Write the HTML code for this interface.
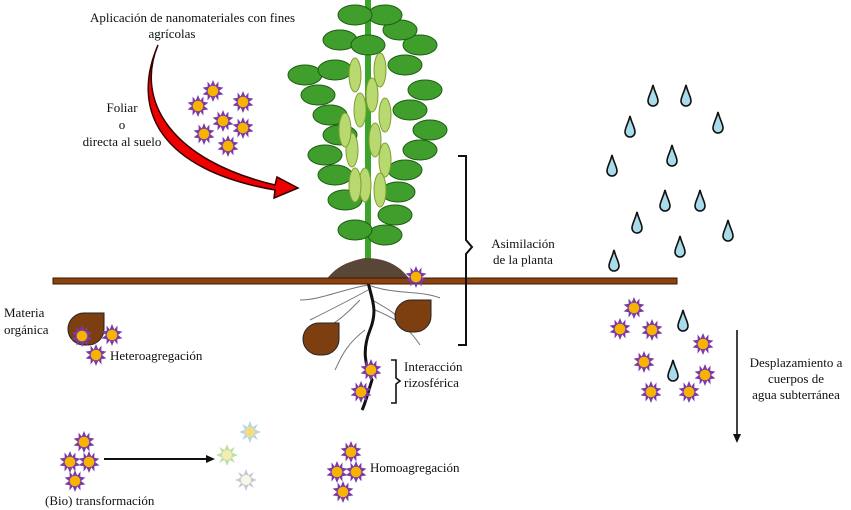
<!DOCTYPE html>
<html><head><meta charset="utf-8"><style>
body{margin:0;background:#fff;width:851px;height:510px;overflow:hidden}
svg{display:block}
text{font-family:"Liberation Serif",serif;font-size:13px;fill:#111}
</style></head><body>
<svg width="851" height="510" viewBox="0 0 851 510">
<defs>
<g id="s"><polygon points="0,-11 2.3,-5.5 5.5,-9.5 5.3,-4.2 10.4,-3.4 6,0 10.4,3.4 5.3,4.2 5.5,9.5 2.3,5.5 0,11 -2.3,5.5 -5.5,9.5 -5.3,4.2 -10.4,3.4 -6,0 -10.4,-3.4 -5.3,-4.2 -5.5,-9.5 -2.3,-5.5" fill="#7a3aa8"/><circle r="5.3" fill="#f6b400"/></g>
<g id="d"><path d="M0,-12 C2,-4 5,0 5,4 A5,5 0 0 1 -5,4 C-5,0 -2,-4 0,-12Z" fill="#a8dceb" stroke="#111" stroke-width="1.6"/></g>
<path id="b" d="M0,16 A16,16 0 0 1 16,0 H36 V16 A16,16 0 0 1 20,32 H16 A16,16 0 0 1 0,16Z"/>
<ellipse id="l" rx="17" ry="10" fill="#3f9e2c" stroke="#1f5e14" stroke-width="1"/>
<ellipse id="p" rx="6" ry="17" fill="#b8d870" stroke="#7a9e30" stroke-width="1"/>
</defs>
<path d="M158,45 C135,100 170,160 275,185 L277,177 L298,188 L274,198 L275,190 C160,170 130,110 158,45Z" fill="#e00" stroke="#300" stroke-width="1.5"/>
<text x="90" y="22">Aplicación de nanomateriales con fines</text>
<text x="172" y="38" text-anchor="middle">agrícolas</text>
<text x="122" y="112" text-anchor="middle">Foliar</text>
<text x="122" y="129" text-anchor="middle">o</text>
<text x="122" y="146" text-anchor="middle">directa al suelo</text>
<use href="#s" x="213" y="91"/><use href="#s" x="243" y="102"/><use href="#s" x="198" y="106"/><use href="#s" x="223" y="121"/><use href="#s" x="243" y="128"/><use href="#s" x="204" y="134"/><use href="#s" x="228" y="146"/>
<!-- plant -->
<rect x="365" y="0" width="6" height="262" fill="#3aa52a"/>
<g>
<use href="#l" x="305" y="75"/><use href="#l" x="330" y="115"/><use href="#l" x="325" y="155"/><use href="#l" x="340" y="40"/><use href="#l" x="318" y="95"/><use href="#l" x="335" y="70"/><use href="#l" x="340" y="135"/><use href="#l" x="335" y="175"/>
<use href="#l" x="420" y="45"/><use href="#l" x="425" y="90"/><use href="#l" x="430" y="130"/><use href="#l" x="405" y="170"/><use href="#l" x="405" y="65"/><use href="#l" x="410" y="110"/><use href="#l" x="420" y="150"/><use href="#l" x="400" y="30"/>
<use href="#l" x="385" y="15"/><use href="#l" x="355" y="15"/><use href="#l" x="395" y="215"/><use href="#l" x="345" y="200"/><use href="#l" x="385" y="235"/><use href="#l" x="355" y="230"/><use href="#l" x="398" y="192"/><use href="#l" x="368" y="45"/>
</g>
<g>
<use href="#p" x="355" y="75"/><use href="#p" x="380" y="70"/><use href="#p" x="360" y="110"/><use href="#p" x="385" y="115"/><use href="#p" x="352" y="150"/><use href="#p" x="385" y="160"/><use href="#p" x="365" y="185"/><use href="#p" x="345" y="130"/><use href="#p" x="372" y="95"/><use href="#p" x="375" y="140"/><use href="#p" x="355" y="185"/><use href="#p" x="380" y="190"/>
</g>
<path d="M326,280 C335,268 345,262 365,258 C385,258 400,265 410,280Z" fill="#5a4636"/>
<g stroke="#777" stroke-width="1" fill="none">
<path d="M368,285 C340,290 320,300 300,300 M368,285 C395,295 420,290 440,298 M360,300 C340,320 330,330 315,325 M375,310 C400,320 410,330 420,345 M365,330 C345,345 340,360 335,370 M368,290 C350,300 330,310 310,320 M372,300 C390,310 400,315 405,330"/>
</g>
<path d="M368,282 C372,300 378,310 370,330 C362,350 365,365 372,380 C368,392 365,405 362,410" stroke="#111" stroke-width="3" fill="none"/>
<rect x="53" y="278" width="624" height="6" fill="#8a4210" stroke="#3a1a05" stroke-width="1"/>
<use href="#s" x="416" y="277"/>
<g fill="#7e3f10" stroke="#222" stroke-width="1">
<use href="#b" x="68" y="313"/><use href="#b" x="303" y="323"/><use href="#b" x="395" y="300"/>
</g>
<use href="#s" x="82" y="336"/><use href="#s" x="112" y="335"/><use href="#s" x="96" y="355"/>
<text x="4" y="317">Materia</text><text x="4" y="334">orgánica</text>
<text x="110" y="360">Heteroagregación</text>
<path d="M458,156 H466 V240 L472,247 L466,254 V345 H458" stroke="#111" stroke-width="2" fill="none"/>
<text x="523" y="248" text-anchor="middle">Asimilación</text>
<text x="523" y="264" text-anchor="middle">de la planta</text>
<use href="#s" x="371" y="370"/><use href="#s" x="361" y="392"/>
<path d="M391,360 H396 V378 L400,381 L396,384 V403 H391" stroke="#111" stroke-width="1.6" fill="none"/>
<text x="404" y="371">Interacción</text><text x="404" y="387">rizosférica</text>
<use href="#s" x="84" y="442"/><use href="#s" x="70" y="462"/><use href="#s" x="89" y="462"/><use href="#s" x="75" y="481"/>
<line x1="104" y1="459" x2="210" y2="459" stroke="#111" stroke-width="2"/><polygon points="206,455 215,459 206,463" fill="#111"/>
<g><polygon transform="translate(250,432)" points="0,-11 2.5,-5 8,-8 5,-2.5 11,0 5,2.5 8,8 2.5,5 0,11 -2.5,5 -8,8 -5,2.5 -11,0 -5,-2.5 -8,-8 -2.5,-5" fill="#b9d6e8"/><circle cx="250" cy="432" r="5" fill="#f5dc80"/>
<polygon transform="translate(227,455)" points="0,-11 2.5,-5 8,-8 5,-2.5 11,0 5,2.5 8,8 2.5,5 0,11 -2.5,5 -8,8 -5,2.5 -11,0 -5,-2.5 -8,-8 -2.5,-5" fill="#bfe0a8"/><circle cx="227" cy="455" r="5" fill="#f5ecb0"/>
<polygon transform="translate(246,480)" points="0,-11 2.5,-5 8,-8 5,-2.5 11,0 5,2.5 8,8 2.5,5 0,11 -2.5,5 -8,8 -5,2.5 -11,0 -5,-2.5 -8,-8 -2.5,-5" fill="#c5ccd8"/><circle cx="246" cy="480" r="5" fill="#fbf6e6"/></g>
<text x="45" y="505">(Bio) transformación</text>
<use href="#s" x="351" y="452"/><use href="#s" x="337" y="472"/><use href="#s" x="356" y="472"/><use href="#s" x="343" y="492"/>
<text x="370" y="472">Homoagregación</text>
<use href="#d" x="653" y="97"/><use href="#d" x="686" y="97"/><use href="#d" x="718" y="124"/><use href="#d" x="630" y="128"/><use href="#d" x="672" y="157"/><use href="#d" x="612" y="167"/><use href="#d" x="665" y="202"/><use href="#d" x="700" y="202"/><use href="#d" x="637" y="224"/><use href="#d" x="728" y="232"/><use href="#d" x="614" y="262"/><use href="#d" x="680" y="248"/><use href="#d" x="683" y="322"/><use href="#d" x="673" y="372"/>
<use href="#s" x="634" y="308"/><use href="#s" x="620" y="329"/><use href="#s" x="652" y="330"/><use href="#s" x="644" y="362"/><use href="#s" x="703" y="344"/><use href="#s" x="705" y="375"/><use href="#s" x="651" y="392"/><use href="#s" x="689" y="392"/>
<line x1="737" y1="330" x2="737" y2="436" stroke="#111" stroke-width="1.6"/><polygon points="733,434 737,443 741,434" fill="#111"/>
<text x="796" y="367" text-anchor="middle">Desplazamiento a</text>
<text x="796" y="383" text-anchor="middle">cuerpos de</text>
<text x="796" y="399" text-anchor="middle">agua subterránea</text>
</svg>
</body></html>
